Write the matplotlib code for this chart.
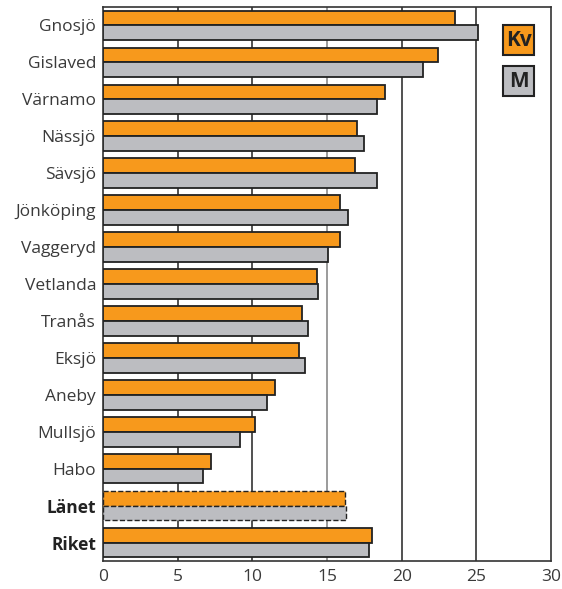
import matplotlib
matplotlib.use("Agg")
import matplotlib.pyplot as plt
from matplotlib.patches import Rectangle

categories = ["Gnosjö", "Gislaved", "Värnamo", "Nässjö", "Sävsjö", "Jönköping", "Vaggeryd",
              "Vetlanda", "Tranås", "Eksjö", "Aneby", "Mullsjö", "Habo", "Länet", "Riket"]
kv = [23.6, 22.4, 18.9, 17.0, 16.9, 15.9, 15.9, 14.3, 13.3, 13.1, 11.5, 10.2, 7.2, 16.2, 18.0]
m = [25.1, 21.4, 18.35, 17.5, 18.35, 16.4, 15.1, 14.4, 13.7, 13.5, 11.0, 9.2, 6.7, 16.3, 17.8]
xticks = [0, 5, 10, 15, 20, 25, 30]

plt.rcParams['font.family'] = ['Open Sans', 'DejaVu Sans']

W, H = 562, 589
fig = plt.figure(figsize=(W/100, H/100), dpi=100)
ax = fig.add_axes([103/W, 1-561/H, (551-103)/W, (561-7)/H])

orange = "#F7991C"
gray = "#BCBDC1"
edge = "#222222"

for i, c in enumerate(categories):
    ls = '--' if c == "Länet" else '-'
    lw = 1.0 if c == "Länet" else 1.3
    ax.barh(i - 0.2, kv[i], height=0.4, color=orange, edgecolor=edge, linewidth=lw, linestyle=ls, zorder=3)
    ax.barh(i + 0.2, m[i], height=0.4, color=gray, edgecolor=edge, linewidth=lw, linestyle=ls, zorder=3)

for x in xticks[1:-1]:
    col = "#8a8a8a" if x == 15 else "#333333"
    ax.axvline(x, color=col, linewidth=1.2, zorder=1)

ax.set_xlim(0, 30)
ax.set_ylim(14.5, -0.5)
ax.set_xticks(xticks)
ax.set_xticklabels([str(x) for x in xticks], fontsize=12.5, color="#3a3a3a")
ax.set_yticks(range(len(categories)))
ax.set_yticklabels(categories, fontsize=12.5, color="#3a3a3a")
for lbl in ax.get_yticklabels():
    if lbl.get_text() in ("Länet", "Riket"):
        lbl.set_fontweight("bold")
        lbl.set_color("#222222")
ax.tick_params(axis='both', length=0)
ax.tick_params(axis='y', pad=5)
ax.tick_params(axis='x', pad=6)
for s in ax.spines.values():
    s.set_color("#333333")
    s.set_linewidth(1.2)

# legend boxes
for (y0, label, col) in [(25, "Kv", orange), (66, "M", gray)]:
    r = Rectangle((503/W, 1-(y0+30)/H), 31/W, 30/H, transform=fig.transFigure,
                  facecolor=col, edgecolor=edge, linewidth=1.5, zorder=5)
    fig.patches.append(r)
    fig.text(518.5/W, 1-(y0+15.5)/H, label, ha='center', va='center', fontsize=15,
             fontweight='bold', color="#222222", zorder=6)

fig.savefig("out.png", dpi=100)
